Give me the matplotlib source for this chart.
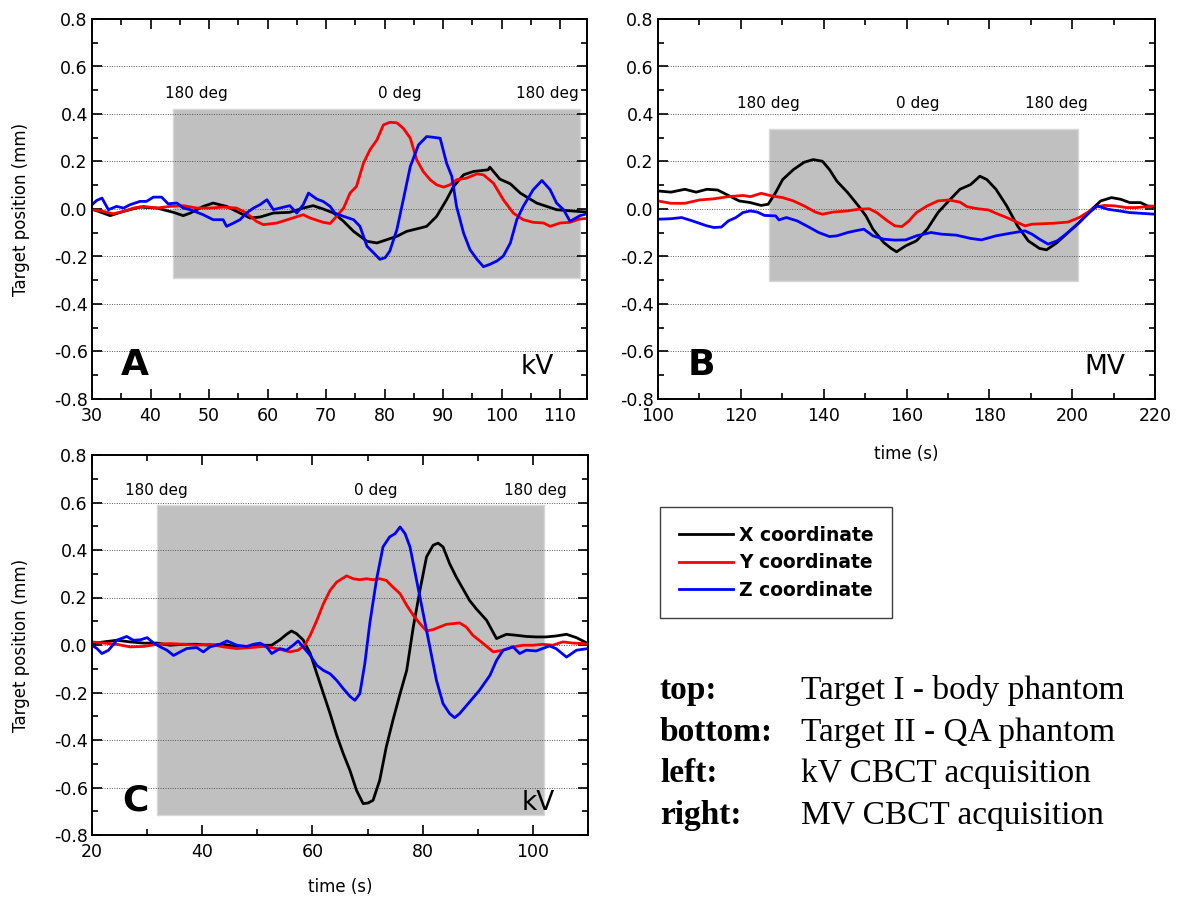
import matplotlib
matplotlib.use("Agg")
import matplotlib.pyplot as plt
from matplotlib.patches import Rectangle
from matplotlib.ticker import MultipleLocator
from matplotlib.lines import Line2D

# ---------------- data ----------------
# Panel A: body phantom, kV CBCT
tA_x = [30, 33.1, 35.4, 38.2, 41.1, 43.9, 45.6, 46.8, 49.0, 50.7, 53.0, 55.3, 57.0, 58.7, 61.0, 63.8,
        66.1, 67.8, 69.5, 71.3, 73.0, 74.7, 77.0, 78.7, 80.4, 82.1, 83.8, 86.1, 87.2, 88.9, 90.6, 91.8,
        93.5, 95.2, 97.7, 98.0, 99.7, 101.5, 103.2, 106.0, 109.4, 113.4, 114.6]
vA_x = [0.0, -0.028, -0.010, 0.008, 0.004, -0.014, -0.028, -0.017, 0.011, 0.025, 0.011, -0.017, -0.038,
        -0.034, -0.017, -0.014, 0.004, 0.014, 0.0, -0.017, -0.052, -0.094, -0.136, -0.143, -0.129, -0.115,
        -0.094, -0.080, -0.073, -0.031, 0.039, 0.095, 0.144, 0.158, 0.165, 0.176, 0.126, 0.106, 0.067,
        0.025, -0.003, -0.011, -0.012]
tA_y = [30, 31.9, 33.6, 35.4, 37.1, 38.8, 41.1, 43.3, 45.6, 47.9, 50.2, 52.4, 54.7, 56.4, 58.1, 59.3,
        61.6, 63.8, 66.1, 67.3, 69.5, 70.7, 71.8, 73.0, 74.1, 75.2, 76.4, 77.5, 78.7, 79.8, 80.9, 82.1,
        83.2, 84.4, 85.5, 86.6, 87.8, 88.9, 90.1, 91.2, 92.3, 94.0, 95.8, 96.9, 98.6, 100.3, 102.0,
        103.7, 105.4, 107.2, 108.3, 110.0, 111.7, 113.4, 114.6]
vA_y = [-0.003, -0.010, -0.020, -0.010, 0.004, 0.011, 0.004, 0.011, 0.014, 0.004, 0.004, 0.008, 0.004,
        -0.017, -0.052, -0.066, -0.059, -0.042, -0.024, -0.038, -0.056, -0.061, -0.031, 0.004, 0.067,
        0.095, 0.193, 0.249, 0.291, 0.354, 0.365, 0.363, 0.340, 0.298, 0.207, 0.158, 0.123, 0.102,
        0.092, 0.102, 0.123, 0.130, 0.148, 0.144, 0.109, 0.039, -0.017, -0.045, -0.056, -0.059, -0.073,
        -0.059, -0.056, -0.042, -0.040]
tA_z = [30, 30.8, 31.7, 32.8, 34.2, 35.4, 36.5, 38.2, 39.3, 40.5, 41.9, 43.0, 44.5, 45.6, 46.8, 49.0,
        50.7, 52.4, 53.0, 54.2, 55.3, 56.4, 57.6, 58.7, 59.9, 61.0, 62.1, 63.8, 65.0, 66.1, 67.0, 68.4,
        69.5, 70.7, 71.5, 73.0, 74.7, 75.8, 77.0, 78.1, 79.2, 80.1, 80.9, 82.1, 83.2, 84.4, 85.8, 87.2,
        88.3, 89.5, 90.6, 91.5, 92.3, 93.5, 94.6, 95.8, 96.9, 98.0, 99.2, 100.3, 101.5, 102.6, 103.7,
        105.4, 106.9, 108.3, 109.4, 110.6, 111.7, 113.4, 114.6]
vA_z = [0.018, 0.036, 0.046, -0.003, 0.011, 0.004, 0.018, 0.032, 0.032, 0.050, 0.050, 0.022, 0.025,
        0.004, -0.003, -0.024, -0.045, -0.045, -0.073, -0.059, -0.045, -0.017, 0.004, 0.018, 0.039,
        -0.003, 0.004, 0.014, -0.017, 0.018, 0.067, 0.042, 0.032, 0.011, -0.017, -0.031, -0.045, -0.073,
        -0.157, -0.184, -0.212, -0.205, -0.177, -0.087, 0.039, 0.179, 0.270, 0.305, 0.302, 0.298, 0.193,
        0.137, 0.011, -0.101, -0.171, -0.212, -0.243, -0.233, -0.219, -0.198, -0.143, -0.045, 0.011,
        0.081, 0.120, 0.081, 0.025, -0.003, -0.052, -0.028, -0.020]

# Panel B: body phantom, MV CBCT
tB_x = [100, 103.1, 106.5, 109.2, 111.8, 114.4, 117.0, 119.6, 122.3, 124.9, 126.6, 128.4, 130.1, 132.7,
        135.3, 137.5, 139.7, 141.4, 143.2, 145.8, 148.4, 150.2, 151.9, 154.5, 156.3, 157.6, 159.8, 162.4,
        165.0, 167.6, 170.2, 172.9, 175.5, 177.7, 179.4, 181.6, 184.2, 186.8, 189.4, 192.1, 193.8, 196.4,
        199.0, 201.7, 204.3, 206.9, 209.5, 211.7, 213.9, 216.5, 218.2, 220]
vB_x = [0.076, 0.071, 0.083, 0.071, 0.083, 0.080, 0.057, 0.034, 0.027, 0.015, 0.020, 0.069, 0.124, 0.166,
        0.197, 0.208, 0.201, 0.166, 0.117, 0.069, 0.013, -0.029, -0.085, -0.141, -0.166, -0.180, -0.155,
        -0.134, -0.085, -0.015, 0.034, 0.083, 0.103, 0.138, 0.124, 0.083, 0.013, -0.071, -0.134, -0.166,
        -0.172, -0.141, -0.099, -0.057, -0.008, 0.034, 0.048, 0.041, 0.027, 0.027, 0.013, 0.010]
tB_y = [100, 103.1, 106.5, 110.0, 113.5, 117.0, 120.5, 122.3, 124.9, 127.5, 130.1, 132.7, 135.3, 138.0,
        139.7, 142.3, 145.8, 148.4, 151.0, 152.8, 155.4, 157.2, 158.9, 160.6, 162.4, 165.0, 167.6, 170.2,
        172.9, 174.6, 177.2, 179.8, 181.6, 184.2, 186.0, 188.6, 190.3, 192.9, 195.5, 199.0, 201.7, 204.3,
        206.0, 207.8, 210.4, 213.0, 215.6, 218.2, 220]
vB_y = [0.034, 0.024, 0.024, 0.038, 0.043, 0.052, 0.057, 0.052, 0.066, 0.055, 0.048, 0.034, 0.013,
        -0.013, -0.022, -0.013, -0.008, -0.001, 0.001, -0.015, -0.050, -0.071, -0.074, -0.050, -0.015,
        0.013, 0.034, 0.038, 0.029, 0.010, 0.001, -0.004, -0.018, -0.036, -0.050, -0.071, -0.064, -0.062,
        -0.060, -0.055, -0.036, -0.008, 0.010, 0.015, 0.013, 0.006, 0.006, 0.010, 0.013]
tB_z = [100, 103.1, 105.7, 108.3, 111.8, 113.5, 115.3, 117.0, 118.8, 120.5, 122.3, 124.0, 125.7, 128.4,
        129.2, 131.0, 133.6, 136.2, 138.8, 141.4, 143.2, 145.8, 147.6, 149.7, 151.9, 154.5, 157.2, 159.8,
        162.4, 165.9, 168.5, 172.0, 175.5, 178.1, 181.6, 185.1, 188.6, 190.3, 192.1, 194.2, 196.4, 199.0,
        201.7, 204.3, 206.0, 208.6, 211.3, 213.9, 216.5, 220]
vB_z = [-0.043, -0.041, -0.036, -0.050, -0.071, -0.078, -0.076, -0.050, -0.036, -0.015, -0.008, -0.013,
        -0.027, -0.029, -0.046, -0.036, -0.050, -0.074, -0.099, -0.116, -0.113, -0.099, -0.092, -0.085,
        -0.113, -0.127, -0.131, -0.130, -0.113, -0.099, -0.106, -0.110, -0.124, -0.130, -0.113, -0.102,
        -0.092, -0.106, -0.127, -0.148, -0.134, -0.099, -0.057, -0.013, 0.013, -0.001, -0.008, -0.015,
        -0.018, -0.022]

# Panel C: QA phantom, kV CBCT
tC_x = [20, 22.1, 24.5, 26.9, 29.4, 31.8, 34.2, 36.6, 39.0, 41.4, 43.9, 46.3, 48.7, 51.1, 52.6, 54.1,
        55.3, 56.2, 57.1, 58.3, 59.6, 60.8, 62.0, 63.2, 64.4, 65.6, 66.8, 68.0, 69.2, 70.1, 71.0, 72.2,
        73.4, 74.6, 75.9, 77.1, 78.3, 79.5, 80.7, 81.9, 82.8, 83.7, 84.9, 86.1, 87.3, 88.5, 89.7, 91.6,
        93.4, 95.2, 97.0, 98.8, 100.6, 102.4, 104.2, 106.1, 107.9, 110]
vC_x = [0.006, 0.013, 0.020, 0.013, 0.008, 0.008, -0.001, 0.003, 0.003, -0.001, 0.003, -0.008, -0.006,
        -0.001, -0.001, 0.022, 0.045, 0.059, 0.048, 0.022, -0.036, -0.121, -0.205, -0.289, -0.380, -0.458,
        -0.528, -0.612, -0.668, -0.665, -0.654, -0.570, -0.429, -0.317, -0.205, -0.107, 0.076, 0.230,
        0.371, 0.420, 0.429, 0.413, 0.342, 0.286, 0.237, 0.188, 0.153, 0.104, 0.027, 0.045, 0.041, 0.036,
        0.034, 0.034, 0.038, 0.045, 0.031, 0.006]
tC_y = [20, 22.1, 24.5, 26.9, 29.4, 31.8, 34.2, 36.6, 39.0, 41.4, 43.9, 46.3, 48.7, 51.1, 53.5, 55.9,
        57.4, 58.6, 59.6, 60.8, 62.0, 63.2, 64.4, 66.2, 67.4, 68.6, 69.8, 71.0, 72.2, 73.4, 74.6, 75.9,
        77.1, 78.3, 79.5, 80.7, 81.9, 83.1, 84.3, 85.5, 86.7, 87.9, 89.1, 91.0, 92.8, 94.6, 96.4, 98.2,
        100.0, 101.8, 103.6, 105.4, 107.3, 109.1, 110]
vC_y = [0.013, 0.008, 0.003, -0.008, -0.006, 0.003, 0.006, 0.003, -0.001, 0.003, -0.008, -0.015, -0.011,
        -0.006, -0.015, -0.029, -0.022, -0.001, 0.041, 0.104, 0.174, 0.230, 0.265, 0.291, 0.279, 0.275,
        0.279, 0.275, 0.279, 0.272, 0.244, 0.216, 0.167, 0.125, 0.090, 0.059, 0.065, 0.076, 0.087, 0.090,
        0.093, 0.076, 0.041, 0.006, -0.029, -0.022, -0.008, -0.001, -0.001, 0.003, -0.001, 0.013, 0.008,
        0.006, 0.003]
tC_z = [20, 20.9, 21.8, 23.0, 24.5, 26.3, 27.5, 28.8, 30.0, 31.2, 32.4, 33.6, 34.8, 36.0, 37.2, 39.0,
        40.2, 41.4, 43.2, 44.5, 46.3, 48.1, 49.3, 50.5, 51.7, 52.6, 54.1, 55.3, 56.5, 57.4, 58.3, 59.6,
        60.8, 62.0, 63.2, 64.4, 65.6, 66.8, 67.7, 68.6, 69.5, 70.4, 71.6, 72.8, 74.0, 75.0, 75.9, 76.8,
        77.7, 78.9, 80.1, 81.3, 82.5, 83.7, 84.9, 85.8, 86.7, 88.5, 90.3, 92.2, 93.4, 94.6, 96.4, 97.6,
        98.8, 100.6, 103.0, 104.2, 106.1, 107.9, 110]
vC_z = [-0.001, -0.015, -0.036, -0.022, 0.020, 0.036, 0.020, 0.022, 0.031, 0.008, -0.008, -0.022, -0.044,
        -0.029, -0.015, -0.011, -0.029, -0.008, 0.003, 0.017, -0.001, -0.006, 0.003, 0.008, -0.008, -0.036,
        -0.015, -0.022, -0.001, 0.017, -0.008, -0.044, -0.086, -0.107, -0.121, -0.149, -0.184, -0.216,
        -0.233, -0.205, -0.079, 0.090, 0.272, 0.413, 0.455, 0.469, 0.497, 0.469, 0.413, 0.272, 0.132,
        -0.008, -0.149, -0.247, -0.289, -0.306, -0.289, -0.240, -0.191, -0.128, -0.065, -0.022, -0.008,
        -0.036, -0.022, -0.025, -0.004, -0.015, -0.051, -0.022, -0.015]

# acquisition windows (t0, t1, y0, y1) and the gantry angle marks
windowA = [43.9, 113.4, -0.29, 0.42]
windowB = [126.7, 201.5, -0.305, 0.338]
windowC = [31.8, 102.1, -0.716, 0.588]
angle_labels = ["180 deg", "0 deg", "180 deg"]
anglesA = [47.8, 82.6, 107.8]
anglesB = [126.6, 162.6, 196.2]
anglesC = [31.6, 71.4, 100.4]

series_labels = ["X coordinate", "Y coordinate", "Z coordinate"]
colors = ["black", "#ff0000", "#0000ff"]

# ---------------- figure ----------------
W, H = 1178, 897
fig = plt.figure(figsize=(W / 100, H / 100), dpi=100)


def px_axes(x0, x1, y0, y1):
    return fig.add_axes([x0 / W, 1 - y1 / H, (x1 - x0) / W, (y1 - y0) / H])


def style(ax, xlim, xmajor, xminor):
    ax.set_xlim(*xlim)
    ax.set_ylim(-0.8, 0.8)
    ax.xaxis.set_major_locator(MultipleLocator(xmajor))
    ax.xaxis.set_minor_locator(MultipleLocator(xminor))
    ax.yaxis.set_major_locator(MultipleLocator(0.2))
    ax.yaxis.set_minor_locator(MultipleLocator(0.1))
    ax.yaxis.set_major_formatter(matplotlib.ticker.FormatStrFormatter('%.1f'))
    ax.tick_params(which='both', direction='in', top=True, right=True, width=1.2, labelsize=12.5)
    ax.tick_params(axis='y', pad=3)
    ax.tick_params(axis='x', pad=6)
    ax.tick_params(which='major', length=7)
    ax.tick_params(which='minor', length=4)
    for s in ax.spines.values():
        s.set_linewidth(1.4)
    ax.set_axisbelow(True)
    ax.yaxis.grid(True, which='major', linestyle=(0, (1, 1.5)), color='#555555', linewidth=0.7)


def draw_panel(ax, data, window, angles, angle_y, letter, mode):
    ax.add_patch(Rectangle((window[0], window[2]), window[1] - window[0], window[3] - window[2],
                           facecolor='#c0c0c0', edgecolor='#d8d8d8', linewidth=1, zorder=0.2))
    for (t, v), c in zip(data, colors):
        ax.plot(t, v, color=c, linewidth=2.0, zorder=2)
    for a, lab in zip(angles, angle_labels):
        ax.text(a, angle_y, lab, ha='center', va='center', fontsize=11)
    ax.text(0.087, 0.09, letter, transform=ax.transAxes, ha='center', va='center',
            fontsize=26, fontweight='bold')
    ax.text(0.9, 0.085, mode, transform=ax.transAxes, ha='center', va='center', fontsize=19)


axA = px_axes(92, 587, 19, 399)
style(axA, (30, 114.6), 10, 5)
draw_panel(axA, [(tA_x, vA_x), (tA_y, vA_y), (tA_z, vA_z)], windowA, anglesA, 0.488, "A", "kV")
axA.set_ylabel("Target position (mm)", fontsize=12, labelpad=17)

axB = px_axes(658, 1155, 19, 399)
style(axB, (100, 220), 20, 10)
draw_panel(axB, [(tB_x, vB_x), (tB_y, vB_y), (tB_z, vB_z)], windowB, anglesB, 0.443, "B", "MV")
axB.set_xlabel("time (s)", fontsize=12, labelpad=14)

axC = px_axes(92, 588, 455, 835)
style(axC, (20, 110), 20, 10)
draw_panel(axC, [(tC_x, vC_x), (tC_y, vC_y), (tC_z, vC_z)], windowC, anglesC, 0.651, "C", "kV")
axC.set_ylabel("Target position (mm)", fontsize=12, labelpad=17)
axC.set_xlabel("time (s)", fontsize=12, labelpad=12)

# legend
handles = [Line2D([], [], color=c, linewidth=2.0) for c in colors]
leg = fig.legend(handles, series_labels, loc='upper left', bbox_to_anchor=(660 / W, 1 - 507 / H),
                 borderaxespad=0, frameon=True, fancybox=False, edgecolor='#404040', framealpha=1,
                 prop={'weight': 'bold', 'size': 13.5}, handlelength=2.9, handletextpad=0.3,
                 labelspacing=0.45, borderpad=1.0)
leg.get_frame().set_linewidth(1.0)

# description block
desc_keys = ["top:", "bottom:", "left:", "right:"]
desc_vals = ["Target I - body phantom", "Target II - QA phantom", "kV CBCT acquisition", "MV CBCT acquisition"]
for i, (k, v) in enumerate(zip(desc_keys, desc_vals)):
    yb = 1 - (699 + i * 41.7) / H
    fig.text(660 / W, yb, k, fontsize=24, fontweight='bold', family='Liberation Serif', va='baseline')
    fig.text(801 / W, yb, v, fontsize=24, family='Liberation Serif', va='baseline')

fig.savefig("out.png", dpi=100)
